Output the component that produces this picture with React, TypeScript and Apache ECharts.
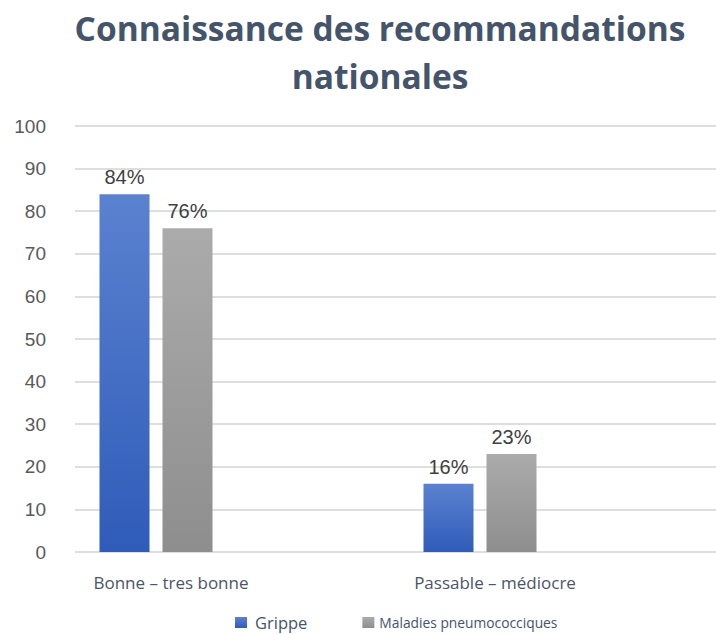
import React, { useEffect, useRef } from "react";
import * as echarts from "echarts";

const categories = ["Bonne – tres bonne", "Passable – médiocre"];
const seriesNames = ["Grippe", "Maladies pneumococciques"];
const grippeValues = [84, 16];
const pneumoValues = [76, 23];
const yTicks = { min: 0, max: 100, interval: 10 };

const blueGradient = () =>
  new echarts.graphic.LinearGradient(0, 0, 0, 1, [
    { offset: 0, color: "#5b82d0" },
    { offset: 1, color: "#2f5cb9" },
  ]);
const grayGradient = () =>
  new echarts.graphic.LinearGradient(0, 0, 0, 1, [
    { offset: 0, color: "#ababab" },
    { offset: 1, color: "#8e8e8e" },
  ]);

export default function App() {
  const ref = useRef<HTMLDivElement>(null);
  useEffect(() => {
    if (!ref.current) return;
    document.body.style.margin = "0";
    document.body.style.overflow = "hidden";
    const chart = echarts.init(ref.current, null, { renderer: "svg" });
    const labelStyle = {
      show: true,
      position: "top",
      distance: 7,
      formatter: "{c}%",
      fontFamily: "Liberation Sans",
      fontSize: 20,
      color: "#404040",
    };
    chart.setOption({
      animation: false,
      backgroundColor: "#ffffff",
      title: {
        text: "Connaissance des recommandations\nnationales",
        left: 380,
        top: 4,
        padding: 0,
        textAlign: "center",
        textStyle: {
          fontFamily: "Open Sans",
          fontWeight: "bold",
          fontSize: 33.5,
          lineHeight: 48,
          color: "#44546a",
        },
      },
      legend: {
        left: 235,
        top: 614,
        padding: 0,
        itemWidth: 12,
        itemHeight: 11,
        itemGap: 55,
        icon: "rect",
        data: [
          {
            name: seriesNames[0],
            textStyle: {
              fontFamily: "Open Sans",
              fontSize: 16.5,
              color: "#44546a",
              padding: [0, 0, 4, 3],
            },
          },
          {
            name: seriesNames[1],
            textStyle: {
              fontFamily: "Open Sans",
              fontSize: 13.8,
              color: "#44546a",
              padding: [0, 0, 4, 0],
            },
          },
        ],
      },
      grid: [
        {
          left: -6,
          right: 74,
          top: 126,
          bottom: 82,
          containLabel: false,
          outerBoundsMode: "none",
        },
        {
          left: 75,
          right: 0,
          top: 126,
          bottom: 82,
          containLabel: false,
          outerBoundsMode: "none",
        },
      ],
      xAxis: [
        {
          type: "category",
          gridIndex: 0,
          data: categories,
          axisLine: { show: false },
          axisTick: { show: false },
          axisLabel: {
            margin: 22,
            fontFamily: "Open Sans",
            fontSize: 17,
            color: "#4a5568",
            padding: [0, 0, 0, 30],
          },
        },
        {
          type: "value",
          gridIndex: 1,
          show: false,
          min: 0,
          max: 1,
        },
      ],
      yAxis: [
        {
          type: "value",
          gridIndex: 0,
          min: yTicks.min,
          max: yTicks.max,
          interval: yTicks.interval,
          show: false,
        },
        {
          type: "value",
          gridIndex: 1,
          min: yTicks.min,
          max: yTicks.max,
          interval: yTicks.interval,
          axisLine: { show: false },
          axisTick: { show: false },
          axisLabel: {
            margin: 29,
            fontFamily: "Liberation Sans",
            fontSize: 19,
            color: "#595959",
          },
          splitLine: { lineStyle: { color: "#dedede", width: 2 } },
        },
      ],
      series: [
        {
          name: seriesNames[0],
          type: "bar",
          xAxisIndex: 0,
          yAxisIndex: 0,
          data: grippeValues,
          barWidth: 50,
          barGap: "26%",
          itemStyle: { color: blueGradient() },
          label: labelStyle,
          z: 3,
        },
        {
          name: seriesNames[1],
          type: "bar",
          xAxisIndex: 0,
          yAxisIndex: 0,
          data: pneumoValues,
          barWidth: 50,
          barGap: "26%",
          itemStyle: { color: grayGradient() },
          label: labelStyle,
          z: 3,
        },
      ],
    });
    return () => chart.dispose();
  }, []);
  return (
    <div
      ref={ref}
      style={{ position: "absolute", left: 0, top: 0, width: 716, height: 634 }}
    />
  );
}
